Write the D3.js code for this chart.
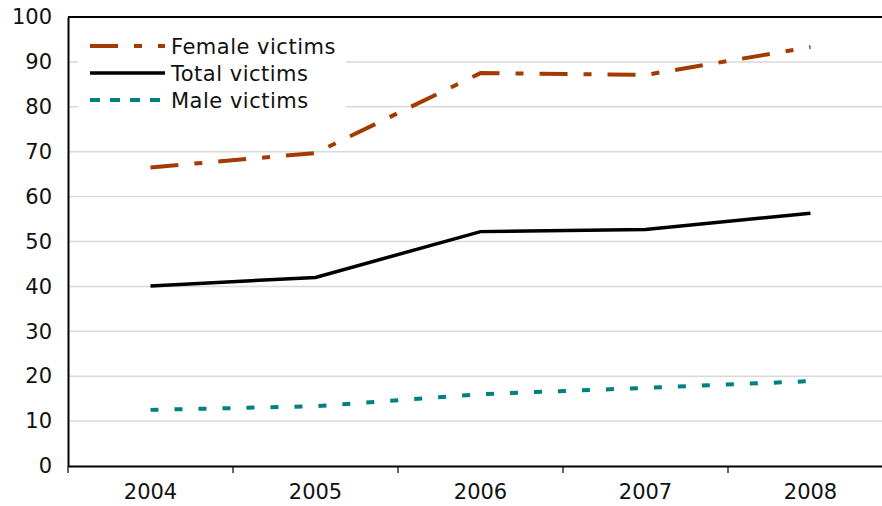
<!DOCTYPE html>
<html>
<head>
<meta charset="utf-8">
<script src="https://cdn.jsdelivr.net/npm/d3@7"></script>
<style>
  body { margin: 0; background: #fff; }
  text { font-family: "DejaVu Sans", Verdana, sans-serif; }
</style>
</head>
<body>
<div id="chart"></div>
<script>
// Data
var years = ["2004", "2005", "2006", "2007", "2008"];
var female = [66.5, 69.7, 87.5, 87.1, 93.3];
var total = [40.1, 42.0, 52.2, 52.7, 56.3];
var male = [12.5, 13.3, 16.0, 17.4, 18.9];
var yTicks = [0, 10, 20, 30, 40, 50, 60, 70, 80, 90, 100];

function initializeChart() {
    d3.select("#chart").select("svg").remove();

    var W = 882, H = 506;
    var left = 68, top = 17, bottom = 466;
    var band = 165;

    var svg = d3.select("#chart").append("svg")
        .attr("width", W)
        .attr("height", H);

    // X scale: categories, the last band runs past the right edge
    var x = d3.scaleBand()
        .domain(years)
        .range([left, left + band * years.length]);

    var y = d3.scaleLinear()
        .domain([0, 100])
        .range([bottom, top]);

    // Gridlines
    svg.append("g")
        .selectAll("line")
        .data(yTicks.filter(d => d > 0 && d < 100))
        .enter().append("line")
        .attr("x1", left).attr("x2", W)
        .attr("y1", d => y(d)).attr("y2", d => y(d))
        .attr("stroke", "#d9d9d9")
        .attr("stroke-width", 1.5);

    // Top border of plot area
    svg.append("line")
        .attr("x1", left).attr("x2", W)
        .attr("y1", y(100)).attr("y2", y(100))
        .attr("stroke", "#000").attr("stroke-width", 2);

    // Y axis
    var yAxis = svg.append("g")
        .attr("transform", `translate(${left},0)`)
        .call(d3.axisLeft(y).tickValues(yTicks).tickSize(0).tickPadding(16));
    yAxis.select(".domain").attr("stroke", "#000").attr("stroke-width", 2);
    yAxis.selectAll("text")
        .attr("font-family", "DejaVu Sans")
        .attr("font-size", 21)
        .attr("fill", "#111");

    // X axis, ticks at band boundaries
    var xAxis = svg.append("g")
        .attr("transform", `translate(0,${bottom})`)
        .call(d3.axisBottom(x).tickSize(0).tickPadding(18));
    xAxis.select(".domain").attr("stroke", "#000").attr("stroke-width", 2);
    xAxis.selectAll("text")
        .attr("font-family", "DejaVu Sans")
        .attr("font-size", 21)
        .attr("fill", "#111");
    xAxis.selectAll(".bound")
        .data(years)
        .enter().append("line")
        .attr("x1", d => x(d)).attr("x2", d => x(d))
        .attr("y1", 0).attr("y2", 7)
        .attr("stroke", "#000").attr("stroke-width", 1.2);

    var line = d3.line()
        .x((d, i) => x(years[i]) + x.bandwidth() / 2)
        .y(d => y(d));

    var series = [
        { name: "Female victims", values: female, color: "#a33a00", width: 4, dash: "28,16,8,16", legendDash: "28,16,8,16" },
        { name: "Total victims", values: total, color: "#000", width: 3.5, dash: null, legendDash: null },
        { name: "Male victims", values: male, color: "#008080", width: 4, dash: "8,16", legendDash: "10,10" }
    ];

    series.forEach(function (s) {
        svg.append("path")
            .datum(s.values)
            .attr("fill", "none")
            .attr("stroke", s.color)
            .attr("stroke-width", s.width)
            .attr("stroke-dasharray", s.dash)
            .attr("d", line);
    });

    // Legend
    var legend = svg.append("g");
    legend.append("rect")
        .attr("x", 78).attr("y", 28)
        .attr("width", 268).attr("height", 84)
        .attr("fill", "#fff");
    series.forEach(function (s, i) {
        var ly = 46 + i * 27;
        legend.append("line")
            .attr("x1", 90).attr("x2", 165)
            .attr("y1", ly).attr("y2", ly)
            .attr("stroke", s.color)
            .attr("stroke-width", s.width)
            .attr("stroke-dasharray", s.legendDash);
        legend.append("text")
            .attr("x", 171).attr("y", ly + 7.5)
            .attr("font-size", 21)
            .attr("letter-spacing", 0.5)
            .attr("fill", "#111")
            .text(s.name);
    });
}

document.addEventListener('DOMContentLoaded', initializeChart);
</script>
</body>
</html>
